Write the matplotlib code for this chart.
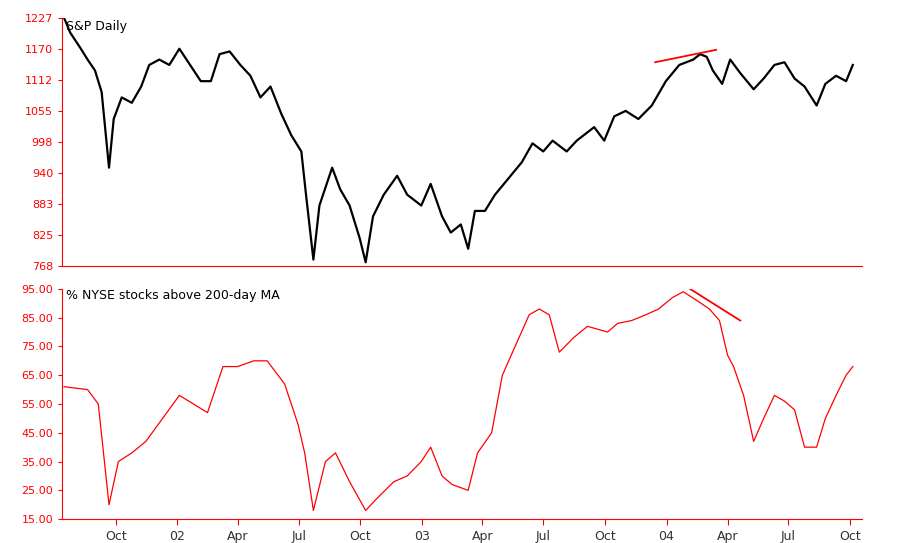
import matplotlib
matplotlib.use("Agg")
import matplotlib.pyplot as plt
import matplotlib.dates as mdates
import pandas as pd

# S&P 500 daily
spx_dates = ["2001-07-16", "2001-07-25", "2001-08-10", "2001-08-20", "2001-08-31", "2001-09-10",
             "2001-09-21", "2001-09-28", "2001-10-10", "2001-10-25", "2001-11-08", "2001-11-20",
             "2001-12-05", "2001-12-20", "2002-01-04", "2002-01-20", "2002-02-05", "2002-02-20",
             "2002-03-05", "2002-03-20", "2002-04-05", "2002-04-20", "2002-05-05", "2002-05-20",
             "2002-06-05", "2002-06-20", "2002-07-05", "2002-07-12", "2002-07-23", "2002-08-01",
             "2002-08-20", "2002-09-01", "2002-09-15", "2002-09-30", "2002-10-09", "2002-10-20",
             "2002-11-05", "2002-11-25", "2002-12-10", "2002-12-31", "2003-01-14", "2003-01-31",
             "2003-02-13", "2003-02-28", "2003-03-11", "2003-03-21", "2003-04-05", "2003-04-20",
             "2003-05-10", "2003-05-30", "2003-06-15", "2003-07-01", "2003-07-15", "2003-08-05",
             "2003-08-20", "2003-09-15", "2003-09-30", "2003-10-15", "2003-11-01", "2003-11-20",
             "2003-12-10", "2003-12-31", "2004-01-20", "2004-02-10", "2004-02-20", "2004-03-01",
             "2004-03-10", "2004-03-24", "2004-04-05", "2004-04-20", "2004-05-10", "2004-05-25",
             "2004-06-10", "2004-06-25", "2004-07-10", "2004-07-25", "2004-08-12", "2004-08-25",
             "2004-09-10", "2004-09-25", "2004-10-05"]
spx_values = [1227, 1200, 1170, 1150, 1130, 1090, 950, 1040, 1080, 1070, 1100, 1140,
              1150, 1140, 1170, 1140, 1110, 1110, 1160, 1165, 1140, 1120, 1080, 1100,
              1050, 1010, 980, 900, 780, 880, 950, 910, 880, 820, 775, 860,
              900, 935, 900, 880, 920, 860, 830, 845, 800, 870, 870, 900,
              930, 960, 995, 980, 1000, 980, 1000, 1025, 1000, 1045, 1055, 1040,
              1065, 1110, 1140, 1150, 1160, 1155, 1130, 1105, 1150, 1125, 1095, 1115,
              1140, 1145, 1115, 1100, 1065, 1105, 1120, 1110, 1140]

# % NYSE stocks above 200-day MA
nyse_dates = ["2001-07-16", "2001-08-20", "2001-09-05", "2001-09-21", "2001-10-05", "2001-10-25",
              "2001-11-15", "2001-12-10", "2002-01-04", "2002-01-25", "2002-02-15", "2002-03-10",
              "2002-04-01", "2002-04-25", "2002-05-15", "2002-06-10", "2002-06-30", "2002-07-10",
              "2002-07-23", "2002-08-10", "2002-08-25", "2002-09-15", "2002-10-09", "2002-10-25",
              "2002-11-20", "2002-12-10", "2002-12-31", "2003-01-14", "2003-01-31", "2003-02-15",
              "2003-03-11", "2003-03-25", "2003-04-15", "2003-05-01", "2003-05-20", "2003-06-10",
              "2003-06-25", "2003-07-10", "2003-07-25", "2003-08-15", "2003-09-05", "2003-09-20",
              "2003-10-05", "2003-10-20", "2003-11-10", "2003-12-01", "2003-12-20", "2004-01-10",
              "2004-01-26", "2004-02-15", "2004-03-05", "2004-03-20", "2004-04-01", "2004-04-10",
              "2004-04-25", "2004-05-10", "2004-05-25", "2004-06-10", "2004-06-25", "2004-07-10",
              "2004-07-25", "2004-08-12", "2004-08-25", "2004-09-10", "2004-09-25", "2004-10-05"]
nyse_values = [61, 60, 55, 20, 35, 38, 42, 50, 58, 55, 52, 68,
               68, 70, 70, 62, 48, 38, 18, 35, 38, 28, 18, 22,
               28, 30, 35, 40, 30, 27, 25, 38, 45, 65, 75, 86,
               88, 86, 73, 78, 82, 81, 80, 83, 84, 86, 88, 92,
               94, 91, 88, 84, 72, 68, 58, 42, 50, 58, 56, 53,
               40, 40, 50, 58, 65, 68]

# divergence lines
spx_div_dates = ["2003-12-15", "2004-03-15"]
spx_div_values = [1145, 1168]
nyse_div_dates = ["2004-02-05", "2004-04-20"]
nyse_div_values = [95, 84]

spx_yticks = [768, 825, 883, 940, 998, 1055, 1112, 1170, 1227]
nyse_yticks = [15, 25, 35, 45, 55, 65, 75, 85, 95]

red = "#ff0000"
xmin, xmax = pd.Timestamp("2001-07-13"), pd.Timestamp("2004-10-19")

fig = plt.figure(figsize=(9, 5.43), dpi=100)
ax1 = fig.add_axes([0.069, 0.51, 0.889, 0.457])
ax2 = fig.add_axes([0.069, 0.044, 0.889, 0.424])

ax1.plot(pd.to_datetime(spx_dates), spx_values, color="black", lw=1.6)
ax1.plot(pd.to_datetime(spx_div_dates), spx_div_values, color=red, lw=1.3)
ax1.set_ylim(768, 1227)
ax1.set_yticks(spx_yticks)
ax1.text(0.005, 0.99, "S&P Daily", transform=ax1.transAxes, va="top", fontsize=9)

ax2.plot(pd.to_datetime(nyse_dates), nyse_values, color=red, lw=0.9)
ax2.plot(pd.to_datetime(nyse_div_dates), nyse_div_values, color=red, lw=1.3)
ax2.set_ylim(15, 95)
ax2.set_yticks(nyse_yticks)
ax2.set_yticklabels([f"{v:.2f}" for v in nyse_yticks])
ax2.text(0.005, 1.0, "% NYSE stocks above 200-day MA", transform=ax2.transAxes, va="top", fontsize=9)

xt = pd.to_datetime(["2001-10-01", "2002-01-01", "2002-04-01", "2002-07-01", "2002-10-01",
                     "2003-01-01", "2003-04-01", "2003-07-01", "2003-10-01", "2004-01-01",
                     "2004-04-01", "2004-07-01", "2004-10-01"])
xl = ["Oct", "02", "Apr", "Jul", "Oct", "03", "Apr", "Jul", "Oct", "04", "Apr", "Jul", "Oct"]

for ax in (ax1, ax2):
    ax.set_xlim(xmin, xmax)
    ax.spines["top"].set_visible(False)
    ax.spines["right"].set_visible(False)
    ax.spines["left"].set_color(red)
    ax.spines["bottom"].set_color(red)
    ax.tick_params(axis="y", colors=red, labelsize=8, length=3)
    ax.tick_params(axis="y", labelcolor=red)
    ax.set_xticks(xt)

ax1.tick_params(axis="x", length=0, labelbottom=False)
ax2.set_xticklabels(xl)
ax2.tick_params(axis="x", colors=red, labelcolor="#333333", labelsize=9, length=4)

fig.savefig("out.png", dpi=100)
